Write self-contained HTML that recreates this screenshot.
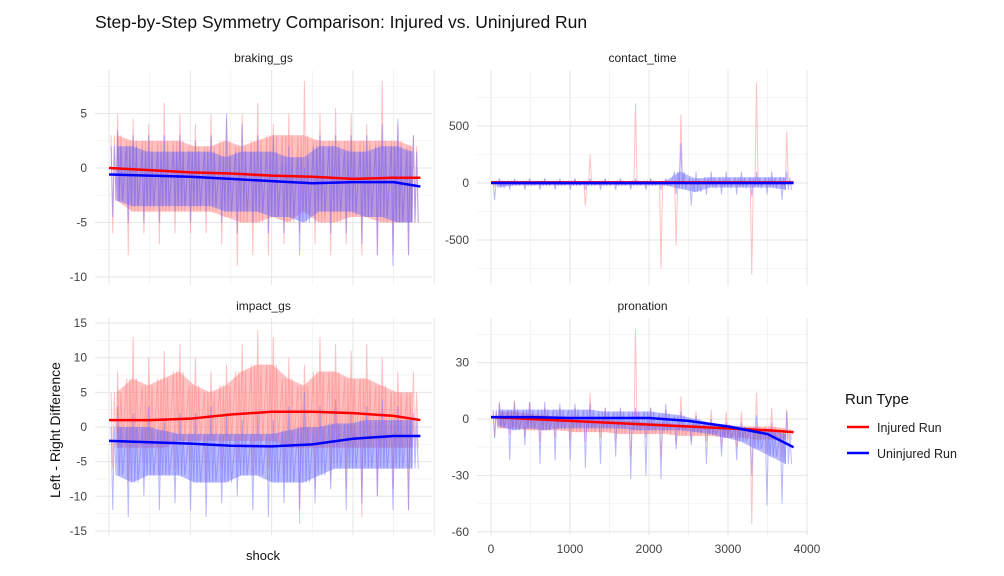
<!DOCTYPE html>
<html><head><meta charset="utf-8"><style>
body{margin:0;background:#fff;}
svg{font-family:"Liberation Sans",sans-serif;}
</style></head><body>
<svg id="c" width="1004" height="571" viewBox="0 0 1004 571">
<text x="95" y="28" font-size="17.5" fill="#111">Step-by-Step Symmetry Comparison: Injured vs. Uninjured Run</text>
<text transform="translate(60,430) rotate(-90)" text-anchor="middle" font-size="14" fill="#111">Left - Right Difference</text>
<text x="263" y="560" text-anchor="middle" font-size="13" fill="#111">shock</text>
<g>
<text x="845" y="404" font-size="15" fill="#111">Run Type</text>
<line x1="847" y1="427" x2="869" y2="427" stroke="#f00" stroke-width="2.5"/>
<text x="877" y="432" font-size="12.5" fill="#222">Injured Run</text>
<line x1="847" y1="453" x2="869" y2="453" stroke="#00f" stroke-width="2.5"/>
<text x="877" y="458" font-size="12.5" fill="#222">Uninjured Run</text>
</g>
</svg>
<script>
const binX=[96,287,479,670,862,1053,1245,1436,1628,1819,2011,2202,2394,2585,2777,2968,3160,3351,3543,3734];
const smoothX=[0,500,1000,1500,2000,2500,3000,3500,3830];
// braking_gs
const brakInjHi=[5,4.5,4,6,5,4,5,4.5,5,6,4,5,8,5,5.5,5,4,8,4,3];
const brakInjLo=[-6,-8,-6,-7,-6,-6,-6,-7,-9,-8,-8,-7,-6,-7,-8,-7,-8,-8,-8,-8];
const brakUnHi=[3.5,3,3,3,3,2.5,3,5,4,3,3,2,0,3,3,3,3,4,4.5,3];
const brakUnLo=[-4.5,-5,-5,-5,-4,-5,-4,-5,-6,-5,-6,-6,-8,-5,-6,-6,-7,-8,-9,-8];
const brakInjCoreHi=[3,2.5,2.5,2.5,2.5,2,2,2.5,2,2.5,3,3,3,2.5,2.5,2.5,2.5,2.5,2.5,2];
const brakInjCoreLo=[-3,-4,-4,-4,-4,-4,-4,-4.5,-5,-5,-4.5,-5,-4,-5,-5,-4.5,-4.5,-5,-5,-5];
const brakUnCoreHi=[2,2,1.5,1.5,1.5,1.5,1.5,1,1.5,1.5,1.5,1,1,2,2,1.5,1.5,2,2,1.5];
const brakUnCoreLo=[-3,-3.5,-3.5,-3.5,-3.5,-3.5,-3.5,-4,-4,-4,-4.5,-4.5,-5,-4,-4,-4,-4.5,-4.5,-5,-5];
const brakInjSmooth=[0,-0.2,-0.4,-0.5,-0.7,-0.8,-1.0,-0.9,-0.9];
const brakUnSmooth=[-0.6,-0.7,-0.8,-1.0,-1.2,-1.4,-1.3,-1.3,-1.7];
// contact_time
const ctInjHi=[30,25,30,30,25,30,250,30,30,700,30,30,600,30,30,30,30,880,30,450];
const ctInjLo=[-30,-30,-30,-30,-30,-30,-200,-30,-30,-30,-30,-750,-550,-30,-30,-30,-30,-800,-30,-40];
const ctUnHi=[40,40,40,40,40,40,40,40,40,40,40,40,350,100,100,100,100,100,100,100];
const ctUnLo=[-150,-60,-60,-60,-60,-60,-60,-60,-60,-60,-60,-60,-100,-200,-100,-100,-100,-120,-100,-150];
const ctInjCoreHi=[15,15,15,15,15,15,15,15,15,15,15,15,15,15,15,15,15,15,15,15];
const ctInjCoreLo=[-15,-15,-15,-15,-15,-15,-15,-15,-15,-15,-15,-15,-15,-15,-15,-15,-15,-15,-15,-15];
const ctUnCoreHi=[20,15,15,15,15,15,15,15,15,15,15,15,100,40,50,50,50,50,50,50];
const ctUnCoreLo=[-40,-20,-20,-20,-20,-20,-20,-20,-20,-20,-20,-20,-50,-80,-40,-40,-40,-40,-40,-60];
const ctInjSmooth=[5,5,5,5,5,5,5,5,5];
const ctUnSmooth=[0,0,0,0,0,0,0,0,0];
// impact_gs
const impInjHi=[8,13,10,11,12,10,8,9,12,14,13,10,9,13,12,11,12,10,8,8];
const impInjLo=[-6,-8,-5,-7,-6,-5,-8,-6,-5,-7,-6,-7,-14,-9,-8,-9,-13,-10,-9,-12];
const impUnHi=[3,2,3,1,2,2,3,2,1,2,1,3,5,3,4,2,3,4,3,2];
const impUnLo=[-12,-13,-10,-12,-11,-12,-13,-11,-10,-12,-13,-11,-12,-11,-9,-12,-11,-10,-12,-12];
const impInjCoreHi=[5,7,6,7,8,6,5,6,8,9,9,7,6,8,8,7,7,6,5,5];
const impInjCoreLo=[-3,-3,-3,-3,-2,-2,-2,-2,-2,-2,-2,-3,-3,-3,-3,-3,-3,-3,-3,-3];
const impUnCoreHi=[0,0,0,-0.5,-1,-1,-1,-1,-1,-1,-1,-0.5,0,0,0.5,0.5,1,1,1,1];
const impUnCoreLo=[-7,-8,-7,-7,-7,-8,-8,-8,-7,-7,-8,-8,-8,-7,-6,-6,-6,-6,-6,-6];
const impInjSmooth=[1,1,1.2,1.8,2.2,2.2,2,1.6,1];
const impUnSmooth=[-2,-2.2,-2.4,-2.7,-2.8,-2.5,-1.7,-1.3,-1.3];
// pronation
const proInjHi=[8,10,9,6,6,6,14,6,5,48,6,5,12,4,5,4,4,14,6,5];
const proInjLo=[-10,-8,-10,-12,-10,-12,-12,-10,-12,-20,-10,-20,-14,-12,-12,-15,-15,-56,-18,-20];
const proUnHi=[9,9,9,9,8,8,8,6,6,6,6,8,4,2,0,-2,-2,2,-2,4];
const proUnLo=[-10,-22,-14,-24,-22,-22,-26,-24,-20,-32,-30,-32,-16,-14,-24,-20,-22,-30,-46,-45];
const proInjCoreHi=[4,4,3,2,1,1,0,0,-1,-1,-2,-2,-3,-3,-3,-3,-4,-4,-4,-5];
const proInjCoreLo=[-5,-5,-6,-6,-6,-7,-7,-7,-8,-8,-8,-8,-9,-9,-9,-10,-10,-11,-11,-11];
const proUnCoreHi=[5,5,5,5,5,5,5,4,4,4,4,3,2,0,-2,-3,-4,-5,-6,-8];
const proUnCoreLo=[-4,-6,-5,-6,-5,-5,-5,-5,-5,-6,-6,-6,-6,-7,-8,-10,-12,-16,-20,-24];
const proInjSmooth=[1,0,-1,-2,-3,-4,-5,-6,-7];
const proUnSmooth=[1,1,0.5,0.5,0.5,-1,-4,-8,-15];

const NS="http://www.w3.org/2000/svg";
const svg=document.getElementById('c');
function mk(t,a,p){const e=document.createElementNS(NS,t);for(const k in a)e.setAttribute(k,a[k]);(p||svg).appendChild(e);return e;}

const panels=[
 {name:'braking-gs',title:'braking_gs',L:95,R:432,T:70,B:285,x0:109,xk:81.3,y0:168,yk:10.9,ticks:[5,0,-5,-10],minor:[7.5,2.5,-2.5,-7.5],xlab:false,
  d:[[brakInjHi,brakInjLo,brakInjCoreHi,brakInjCoreLo,brakInjSmooth,'inj'],[brakUnHi,brakUnLo,brakUnCoreHi,brakUnCoreLo,brakUnSmooth,'un']]},
 {name:'contact-time',title:'contact_time',L:477,R:808,T:70,B:285,x0:491,xk:79,y0:183,yk:0.114,ticks:[500,0,-500],minor:[750,250,-250,-750],xlab:false,
  d:[[ctInjHi,ctInjLo,ctInjCoreHi,ctInjCoreLo,ctInjSmooth,'inj'],[ctUnHi,ctUnLo,ctUnCoreHi,ctUnCoreLo,ctUnSmooth,'un']]},
 {name:'impact-gs',title:'impact_gs',L:95,R:432,T:318,B:535,x0:109,xk:81.3,y0:427,yk:6.93,ticks:[15,10,5,0,-5,-10,-15],minor:[12.5,7.5,2.5,-2.5,-7.5,-12.5],xlab:false,
  d:[[impInjHi,impInjLo,impInjCoreHi,impInjCoreLo,impInjSmooth,'inj'],[impUnHi,impUnLo,impUnCoreHi,impUnCoreLo,impUnSmooth,'un']]},
 {name:'pronation',title:'pronation',L:477,R:808,T:318,B:535,x0:491,xk:79,y0:419,yk:1.88,ticks:[30,0,-30,-60],minor:[45,15,-15,-45],xlab:true,
  d:[[proInjHi,proInjLo,proInjCoreHi,proInjCoreLo,proInjSmooth,'inj'],[proUnHi,proUnLo,proUnCoreHi,proUnCoreLo,proUnSmooth,'un']]}
];
const xTicks=[0,1000,2000,3000,4000];
const xMinor=[500,1500,2500,3500];

panels.forEach(p=>{
 const g=mk('g',{});
 
 
 const X=v=>p.x0+v*p.xk/1000, Y=v=>p.y0-v*p.yk;
 p.minor.forEach(v=>{const y=Y(v);if(y>p.T&&y<p.B){const l=mk('line',{x1:p.L,x2:p.R,y1:y,y2:y,stroke:'#f3f3f3','stroke-width':0.8},g);}});
 xMinor.forEach(v=>{const l=mk('line',{x1:X(v),x2:X(v),y1:p.T,y2:p.B,stroke:'#f0f0f0','stroke-width':0.8},g);});
 p.ticks.forEach(v=>{const y=Y(v);const l=mk('line',{x1:p.L,x2:p.R,y1:y,y2:y,stroke:'#e6e6e6','stroke-width':1},g);
  const t=mk('text',{x:p.L-8,y:y+4,'text-anchor':'end','font-size':12,fill:'#444'},g);t.textContent=v;});
 xTicks.forEach(v=>{const l=mk('line',{x1:X(v),x2:X(v),y1:p.T,y2:p.B,stroke:'#e6e6e6','stroke-width':1},g);
  if(p.xlab){const t=mk('text',{x:X(v),y:p.B+18,'text-anchor':'middle','font-size':12,fill:'#444'},g);t.textContent=v;}});
 const st=mk('text',{x:(p.L+p.R)/2,y:p.T-8,'text-anchor':'middle','font-size':12,fill:'#222'},g);st.textContent=p.title;
 
 p.d.forEach(([hi,lo,chi,clo,sm,k])=>{
  const col=k==='inj'?'#ff7777':'#6666ff';
  const up=binX.map((x,i)=>X(x)+','+Y(chi[i]));const dn=binX.map((x,i)=>X(x)+','+Y(clo[i])).reverse();
  const band=mk('polygon',{points:up.concat(dn).join(' '),fill:col,opacity:0.45},g);
  
  let zz=[];binX.forEach((x,i)=>{
   zz.push(X(x-70)+','+Y(chi[i]));zz.push(X(x-50)+','+Y(lo[i]));zz.push(X(x-30)+','+Y(chi[i]));
   zz.push(X(x-10)+','+Y(clo[i]));zz.push(X(x+10)+','+Y(hi[i]));zz.push(X(x+30)+','+Y(clo[i]));
   zz.push(X(x+50)+','+Y(chi[i]));zz.push(X(x+70)+','+Y(clo[i]));});
  const z=mk('polyline',{points:zz.join(' '),fill:'none',stroke:col,'stroke-width':1,opacity:0.45},g);
  
 });
 p.d.forEach(([hi,lo,chi,clo,sm,k])=>{
  const s=mk('polyline',{points:smoothX.map((x,i)=>X(x)+','+Y(sm[i])).join(' '),fill:'none',stroke:k==='inj'?'#f00':'#00f','stroke-width':2.5},g);
  
 });
});
</script>
</body></html>
